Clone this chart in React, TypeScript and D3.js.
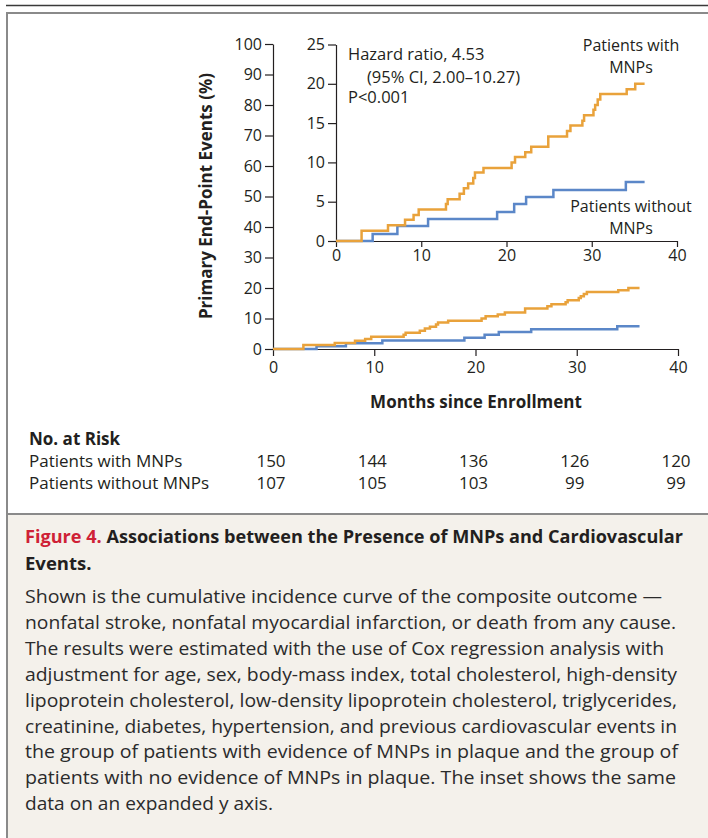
import React, { useEffect, useRef } from 'react'
import * as d3 from 'd3'

// cumulative incidence (%), step changes at these months
const monthsWithMNPs = [0, 3.0, 6.1, 8.1, 9.1, 9.7, 12.9, 13.1, 14.5, 15.0, 15.5, 16.1, 16.3, 17.3, 20.6, 21.0, 22.2, 22.9, 24.9, 27.1, 27.5, 28.9, 29.1, 30.2, 30.4, 30.7, 31.0, 34.1, 35.1, 36.2]
const pctWithMNPs = [0, 1.3, 2.0, 2.7, 3.3, 4.0, 4.7, 5.3, 6.0, 6.7, 7.3, 8.0, 8.7, 9.3, 10.0, 10.7, 11.3, 12.0, 13.3, 14.0, 14.7, 15.3, 16.0, 16.7, 17.3, 18.0, 18.7, 19.3, 20.0, 20.0]
const monthsWithoutMNPs = [0, 4.3, 7.2, 10.8, 18.9, 20.9, 22.3, 25.5, 34.0, 36.2]
const pctWithoutMNPs = [0, 0.9, 1.9, 2.8, 3.7, 4.7, 5.6, 6.5, 7.5, 7.5]

const mainYTicks = [0, 10, 20, 30, 40, 50, 60, 70, 80, 90, 100]
const insetYTicks = [0, 5, 10, 15, 20, 25]
const xTicks = [0, 10, 20, 30, 40]

const riskGroups = ['Patients with MNPs', 'Patients without MNPs']
const riskWithMNPs = [150, 144, 136, 126, 120]
const riskWithoutMNPs = [107, 105, 103, 99, 99]

const captionTitle = 'Associations between the Presence of MNPs and Cardiovascular'
const captionLines = [
  'Shown is the cumulative incidence curve of the composite outcome —',
  'nonfatal stroke, nonfatal myocardial infarction, or death from any cause.',
  'The results were estimated with the use of Cox regression analysis with',
  'adjustment for age, sex, body-mass index, total cholesterol, high-density',
  'lipoprotein cholesterol, low-density lipoprotein cholesterol, triglycerides,',
  'creatinine, diabetes, hypertension, and previous cardiovascular events in',
  'the group of patients with evidence of MNPs in plaque and the group of',
  'patients with no evidence of MNPs in plaque. The inset shows the same',
  'data on an expanded y axis.',
]
const captionWidths = [637, 651, 639, 652, 652, 652, 653, 651, 248]

const FONT = '"Open Sans", sans-serif'
const ORANGE = '#e9a23b'
const BLUE = '#5b87c8'
const INK = '#231f20'

const App = () => {
  const ref = useRef<SVGSVGElement>(null)

  useEffect(() => {
    const svg = d3.select(ref.current)
    svg.selectAll('*').remove()

    // frame
    svg.append('rect').attr('x', 8).attr('y', 515).attr('width', 700).attr('height', 323).attr('fill', '#f4f1eb')
    svg.append('line').attr('x1', 6).attr('x2', 708).attr('y1', 5.5).attr('y2', 5.5).attr('stroke', '#3a3a3a').attr('stroke-width', 1.5)
    svg.append('line').attr('x1', 6).attr('x2', 708).attr('y1', 13).attr('y2', 13).attr('stroke', '#8a8a8a').attr('stroke-width', 2)
    svg.append('line').attr('x1', 7).attr('x2', 7).attr('y1', 12).attr('y2', 838).attr('stroke', '#8a8a8a').attr('stroke-width', 2)
    svg.append('line').attr('x1', 6).attr('x2', 708).attr('y1', 514).attr('y2', 514).attr('stroke', '#8a8a8a').attr('stroke-width', 2)

    const styleAxis = (g, size) => {
      g.attr('font-family', FONT).attr('font-size', size)
      g.selectAll('path, line').attr('stroke', INK).attr('stroke-width', 1.2)
      g.selectAll('text').attr('fill', INK)
    }

    // main chart
    const x = d3.scaleLinear().domain([0, 40]).range([273, 678])
    const y = d3.scaleLinear().domain([0, 100]).range([349, 44])

    svg.append('g').attr('transform', 'translate(273,0)')
      .call(d3.axisLeft(y).tickValues(mainYTicks).tickSize(8).tickPadding(3).tickSizeOuter(0))
      .call(g => styleAxis(g, 16))
    svg.append('g').attr('transform', 'translate(0,349)')
      .call(d3.axisBottom(x).tickValues(xTicks).tickSize(7).tickPadding(6).tickSizeOuter(0))
      .call(g => styleAxis(g, 16))

    const mainLine = (months, pct) => d3.line().curve(d3.curveStepAfter)
      .x((d, i) => x(months[i])).y(d => y(d))(pct)

    svg.append('path').attr('d', mainLine(monthsWithoutMNPs, pctWithoutMNPs))
      .attr('fill', 'none').attr('stroke', BLUE).attr('stroke-width', 2.5)
    svg.append('path').attr('d', mainLine(monthsWithMNPs, pctWithMNPs))
      .attr('fill', 'none').attr('stroke', ORANGE).attr('stroke-width', 2.5)

    svg.append('text').attr('transform', 'translate(212,196) rotate(-90)')
      .attr('text-anchor', 'middle').attr('font-family', FONT).attr('font-size', 17).attr('font-weight', 700)
      .attr('fill', INK).text('Primary End-Point Events (%)')
    svg.append('text').attr('x', 476).attr('y', 408)
      .attr('text-anchor', 'middle').attr('font-family', FONT).attr('font-size', 17).attr('font-weight', 700)
      .attr('fill', INK).text('Months since Enrollment')

    // inset
    const xi = d3.scaleLinear().domain([0, 40]).range([336, 677])
    const yi = d3.scaleLinear().domain([0, 25]).range([241, 44.5])

    svg.append('g').attr('transform', 'translate(336,0)')
      .call(d3.axisLeft(yi).tickValues(insetYTicks).tickSize(8).tickPadding(3).tickSizeOuter(0))
      .call(g => styleAxis(g, 16))
    svg.append('g').attr('transform', 'translate(0,241)')
      .call(d3.axisBottom(xi).tickValues(xTicks).tickSize(6).tickPadding(3).tickSizeOuter(0))
      .call(g => styleAxis(g, 16))

    const insetLine = (months, pct) => d3.line().curve(d3.curveStepAfter)
      .x((d, i) => xi(months[i])).y(d => yi(d))(pct)

    svg.append('path').attr('d', insetLine(monthsWithoutMNPs, pctWithoutMNPs))
      .attr('fill', 'none').attr('stroke', BLUE).attr('stroke-width', 2.5)
    svg.append('path').attr('d', insetLine(monthsWithMNPs, pctWithMNPs))
      .attr('fill', 'none').attr('stroke', ORANGE).attr('stroke-width', 2.5)

    const note = (tx, ty, str, anchor = 'start') =>
      svg.append('text').attr('x', tx).attr('y', ty).attr('text-anchor', anchor)
        .attr('font-family', FONT).attr('font-size', 16).attr('fill', INK).text(str)

    note(348, 60, 'Hazard ratio, 4.53').attr('font-size', 16.5)
    note(367, 83, '(95% CI, 2.00–10.27)').attr('font-size', 16.5)
    note(348, 103, 'P<0.001').attr('font-size', 16.5)
    note(631, 50.5, 'Patients with', 'middle')
    note(631, 72.5, 'MNPs', 'middle')
    note(631, 212, 'Patients without', 'middle')
    note(631, 233.5, 'MNPs', 'middle')

    // number at risk
    svg.append('text').attr('x', 29).attr('y', 445)
      .attr('font-family', FONT).attr('font-size', 17).attr('font-weight', 700).attr('fill', INK).text('No. at Risk')
    ;[riskWithMNPs, riskWithoutMNPs].forEach((row, r) => {
      const ry = 467 + r * 21.5
      svg.append('text').attr('x', 29).attr('y', ry)
        .attr('font-family', FONT).attr('font-size', 17).attr('fill', INK).text(riskGroups[r])
      svg.append('g').selectAll('text').data(row).join('text')
        .attr('x', (d, i) => x(xTicks[i]) - 2).attr('y', ry).attr('text-anchor', 'middle')
        .attr('font-family', FONT).attr('font-size', 17).attr('fill', INK).text(d => d)
    })

    // caption
    const title = svg.append('text').attr('x', 25).attr('y', 543)
      .attr('font-family', FONT).attr('font-size', 18).attr('font-weight', 700)
      .attr('textLength', 658).attr('lengthAdjust', 'spacingAndGlyphs')
    title.append('tspan').attr('fill', '#cf2136').text('Figure 4. ')
    title.append('tspan').attr('fill', INK).text(captionTitle)
    svg.append('text').attr('x', 25).attr('y', 570)
      .attr('font-family', FONT).attr('font-size', 18.5).attr('font-weight', 700).attr('fill', INK)
      .text('Events.')

    captionLines.forEach((line, i) => {
      svg.append('text').attr('x', 25).attr('y', 603 + i * 25.9)
        .attr('font-family', FONT).attr('font-size', 19).attr('fill', '#2b2b2b')
        .attr('textLength', captionWidths[i]).attr('lengthAdjust', 'spacingAndGlyphs').text(line)
    })
  }, [])

  return (
    <svg ref={ref} width={708} height={838}
      style={{ position: 'absolute', left: 0, top: 0, background: '#fff' }} />
  )
}

export default App
